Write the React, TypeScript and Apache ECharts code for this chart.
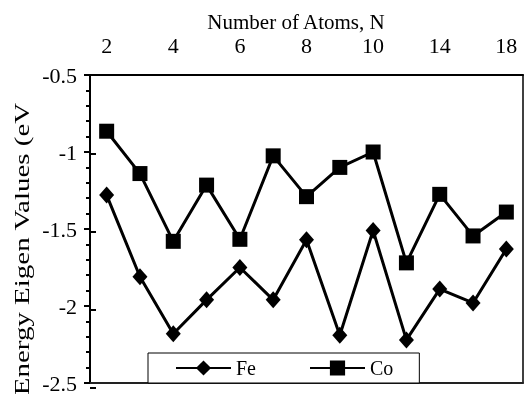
import React, { useEffect, useRef } from "react";
import * as echarts from "echarts";

const categories = ["2", "3", "4", "5", "6", "7", "8", "9", "10", "12", "14", "16", "18"];
const feValues = [-1.28, -1.81, -2.18, -1.96, -1.75, -1.96, -1.57, -2.19, -1.51, -2.22, -1.89, -1.98, -1.63];
const coValues = [-0.865, -1.14, -1.58, -1.215, -1.567, -1.025, -1.29, -1.10, -1.0, -1.72, -1.275, -1.545, -1.39];
const xTitle = "Number of Atoms, N";
const yTitle = "Energy Eigen Values (eV";

export default function App() {
  const ref = useRef<HTMLDivElement>(null);
  useEffect(() => {
    if (!ref.current) return;
    const chart = echarts.init(ref.current, null, { renderer: "svg" });
    const F = "Liberation Serif";
    const black = "#000";
    const g = { left: 90, right: 3, top: 75, bottom: 6 };
    chart.setOption({
      animation: false,
      graphic: [
        {
          type: "text",
          x: 296,
          y: 22,
          style: { text: xTitle, fontFamily: F, fontSize: 21, fill: black, align: "center", verticalAlign: "middle" },
        },
        {
          type: "text",
          x: 22,
          y: 249,
          rotation: Math.PI / 2,
          scaleX: 1.38,
          style: { text: yTitle, fontFamily: F, fontSize: 21, fill: black, align: "center", verticalAlign: "middle" },
        },
      ],
      grid: [
        { left: g.left, right: g.right, top: g.top, bottom: g.bottom },
        { left: g.left, right: g.right, top: g.top, bottom: g.bottom },
      ],
      legend: {
        left: 148,
        top: 353,
        data: ["Fe", "Co"],
        backgroundColor: "#fff",
        borderColor: black,
        borderWidth: 1,
        padding: [5, 26, 5, 27],
        itemWidth: 55,
        itemHeight: 19,
        itemGap: 53,
        textStyle: { fontFamily: F, fontSize: 20, color: black },
      },
      xAxis: [
        {
          type: "category",
          gridIndex: 0,
          position: "top",
          data: categories,
          axisLine: { lineStyle: { color: black, width: 2 } },
          axisTick: { inside: false, length: 5, interval: 0, lineStyle: { color: black, width: 2 } },
          axisLabel: { interval: 1, fontFamily: F, fontSize: 22, color: black, margin: 19 },
        },
        {
          type: "category",
          gridIndex: 0,
          position: "bottom",
          data: categories,
          axisLine: { lineStyle: { color: "#222", width: 2 } },
          axisTick: { show: false },
          axisLabel: { show: false },
        },
        {
          type: "category",
          gridIndex: 1,
          position: "top",
          data: categories,
          axisLine: { show: false },
          axisTick: { inside: true, alignWithLabel: true, interval: 0, length: 5, lineStyle: { color: black, width: 2 } },
          axisLabel: { show: false },
        },
      ],
      yAxis: [
        {
          type: "value",
          gridIndex: 0,
          position: "left",
          min: -2.5,
          max: -0.5,
          interval: 0.5,
          axisLine: { show: true, lineStyle: { color: black, width: 2 } },
          axisTick: { show: true, inside: false, length: 6, lineStyle: { color: black, width: 2 } },
          minorTick: { show: true, splitNumber: 5, length: 4, lineStyle: { color: black, width: 2 } },
          axisLabel: { fontFamily: F, fontSize: 22, color: black, margin: 13 },
          splitLine: { show: false },
        },
        {
          type: "value",
          gridIndex: 0,
          position: "right",
          min: -2.5,
          max: -0.5,
          interval: 0.5,
          axisLine: { show: true, lineStyle: { color: black, width: 1.5 } },
          axisTick: { show: false },
          axisLabel: { show: false },
          splitLine: { show: false },
        },
        {
          type: "value",
          gridIndex: 1,
          position: "left",
          min: -2.5,
          max: -0.5,
          interval: 0.5,
          axisLine: { show: false },
          axisTick: { show: true, inside: true, length: 6, lineStyle: { color: black, width: 2 } },
          axisLabel: { show: false },
          splitLine: { show: false },
        },
      ],
      series: [
        {
          name: "Fe",
          type: "line",
          xAxisIndex: 0,
          yAxisIndex: 0,
          data: feValues,
          symbol: "diamond",
          symbolSize: [15, 17],
          itemStyle: { color: black },
          lineStyle: { color: black, width: 3 },
        },
        {
          name: "Co",
          type: "line",
          xAxisIndex: 0,
          yAxisIndex: 0,
          data: coValues,
          symbol: "rect",
          symbolSize: 15,
          itemStyle: { color: black },
          lineStyle: { color: black, width: 3 },
        },
      ],
    });
    return () => chart.dispose();
  }, []);
  return <div ref={ref} style={{ position: "fixed", left: 0, top: 0, width: 526, height: 394 }} />;
}
